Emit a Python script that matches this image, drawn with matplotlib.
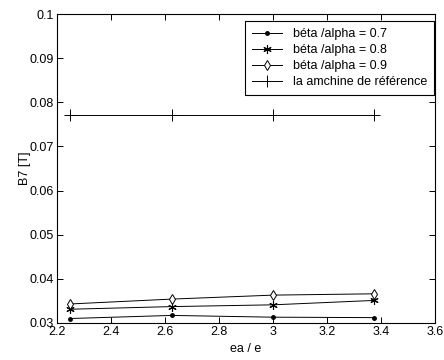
import matplotlib.pyplot as plt

plt.rcParams['font.family'] = ['Liberation Sans', 'DejaVu Sans']
plt.rcParams['font.size'] = 9

# rapport ea / e
ea_e = [2.25, 2.625, 3.0, 3.375]

# B7 [T] pour chaque rapport béta/alpha
b7_07 = [0.0310, 0.0317, 0.0313, 0.0312]
b7_08 = [0.0331, 0.0337, 0.0341, 0.0351]
b7_09 = [0.0343, 0.0354, 0.0363, 0.0366]
b7_ref = [0.0772, 0.0772, 0.0772, 0.0772]

fig = plt.figure(figsize=(4.44, 3.6), dpi=100)
ax = fig.add_axes([0.128, 0.103, 0.852, 0.858])

ax.plot(ea_e, b7_07, color='black', lw=0.7, marker='.', ms=5, label='béta /alpha = 0.7')
ax.plot(ea_e, b7_08, color='black', lw=0.7, marker=(6, 2, 0), ms=6, mew=0.8,
        label='béta /alpha = 0.8')
ax.plot(ea_e, b7_09, color='black', lw=0.7, marker='d', ms=5.5, mfc='white', mew=0.7,
        label='béta /alpha = 0.9')
ax.plot(ea_e, b7_ref, color='black', lw=0.7, marker='+', ms=8, mew=0.7,
        label='la amchine de référence')

ax.set_xlim(2.2, 3.6)
ax.set_ylim(0.03, 0.1)
ax.set_xticks([2.2, 2.4, 2.6, 2.8, 3, 3.2, 3.4, 3.6])
ax.set_xticklabels(['2.2', '2.4', '2.6', '2.8', '3', '3.2', '3.4', '3.6'])
ax.set_yticks([0.03, 0.04, 0.05, 0.06, 0.07, 0.08, 0.09, 0.1])
ax.set_yticklabels(['0.03', '0.04', '0.05', '0.06', '0.07', '0.08', '0.09', '0.1'])
ax.tick_params(direction='in', top=True, right=True, length=4, width=0.7, pad=2)
for s in ax.spines.values():
    s.set_linewidth(0.8)

ax.set_xlabel('ea / e', labelpad=4)
ax.set_ylabel('B7 [T]', labelpad=-1)

leg = ax.legend(loc='upper right', bbox_to_anchor=(0.998, 0.977), borderaxespad=0,
                fancybox=False, edgecolor='black', framealpha=1,
                handlelength=2.4, labelspacing=0.32, borderpad=0.55,
                handletextpad=0.9)
leg.get_frame().set_linewidth(0.8)

plt.savefig('out.png', dpi=100)
